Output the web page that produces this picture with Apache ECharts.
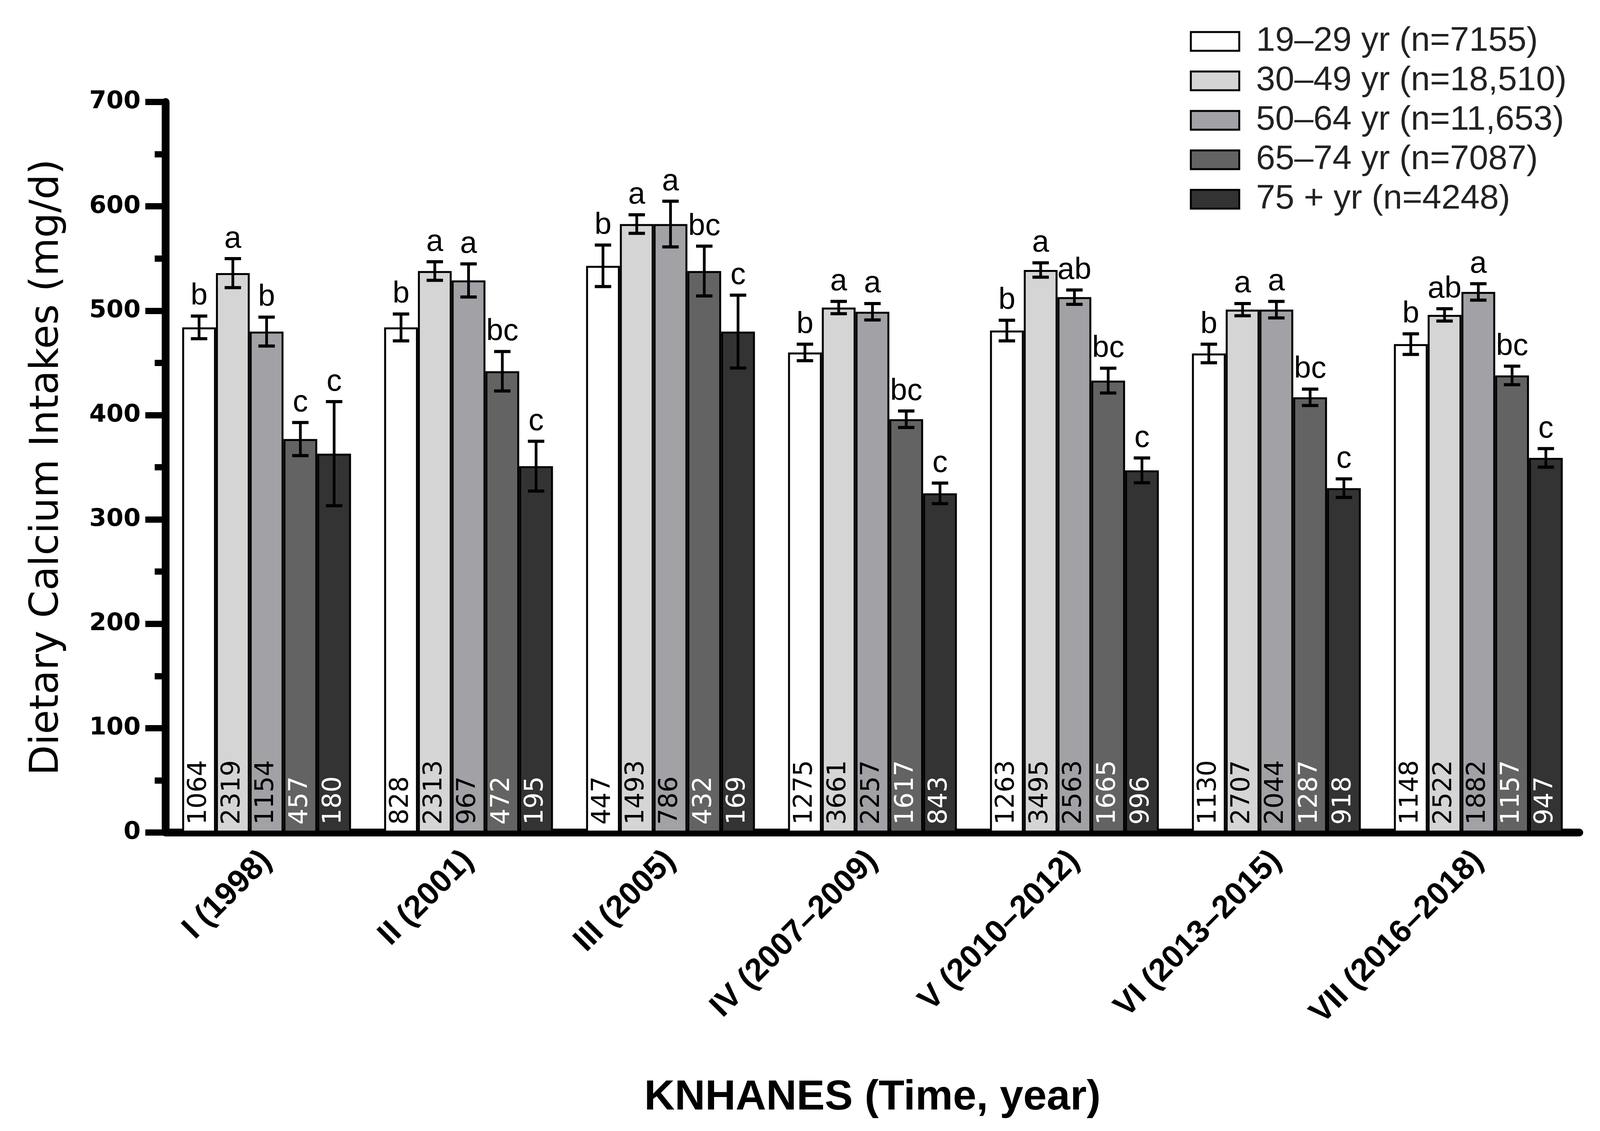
<!DOCTYPE html>
<html>
<head>
<meta charset="utf-8">
<script src="https://cdn.jsdelivr.net/npm/echarts@6/dist/echarts.min.js"></script>
<style>
html,body{margin:0;padding:0;background:#fff;}
#chart{width:4104px;height:2895px;}
</style>
</head>
<body>
<div id="chart"></div>
<script>
// ---------- data ----------
const categories = ['I (1998)', 'II (2001)', 'III (2005)', 'IV (2007–2009)', 'V (2010–2012)', 'VI (2013–2015)', 'VII (2016–2018)'];
const ageGroups = ['19–29 yr (n=7155)', '30–49 yr (n=18,510)', '50–64 yr (n=11,653)', '65–74 yr (n=7087)', '75 + yr (n=4248)'];
const yTicks = [0, 100, 200, 300, 400, 500, 600, 700];

const mean19_29  = [484, 484, 543, 460, 481, 459, 468];
const mean30_49  = [536, 538, 583, 503, 539, 501, 496];
const mean50_64  = [480, 529, 583, 499, 513, 501, 518];
const mean65_74  = [377, 442, 538, 396, 433, 417, 438];
const mean75plus = [363, 351, 480, 325, 347, 330, 359];

const se19_29  = [12, 14, 21, 9, 11, 10, 11];
const se30_49  = [15, 10, 10, 7, 8, 7, 7];
const se50_64  = [15, 17, 23, 9, 8, 9, 9];
const se65_74  = [17, 20, 25, 9, 13, 9, 10];
const se75plus = [51, 25, 36, 11, 13, 10, 10];

const sig19_29  = ['b', 'b', 'b', 'b', 'b', 'b', 'b'];
const sig30_49  = ['a', 'a', 'a', 'a', 'a', 'a', 'ab'];
const sig50_64  = ['b', 'a', 'a', 'a', 'ab', 'a', 'a'];
const sig65_74  = ['c', 'bc', 'bc', 'bc', 'bc', 'bc', 'bc'];
const sig75plus = ['c', 'c', 'c', 'c', 'c', 'c', 'c'];

const n19_29  = [1064, 828, 447, 1275, 1263, 1130, 1148];
const n30_49  = [2319, 2313, 1493, 3661, 3495, 2707, 2522];
const n50_64  = [1154, 967, 786, 2257, 2563, 2044, 1882];
const n65_74  = [457, 472, 432, 1617, 1665, 1287, 1157];
const n75plus = [180, 195, 169, 843, 996, 918, 947];

// ---------- styling ----------
const means = [mean19_29, mean30_49, mean50_64, mean65_74, mean75plus];
const ses = [se19_29, se30_49, se50_64, se65_74, se75plus];
const sigs = [sig19_29, sig30_49, sig50_64, sig65_74, sig75plus];
const ns = [n19_29, n30_49, n50_64, n65_74, n75plus];
const fills = ['#ffffff', '#d5d5d5', '#a2a1a6', '#636363', '#333333'];
const nLabelColors = ['#000', '#000', '#000', '#fff', '#fff'];
const CAT_GAP = 0.164;

const chart = echarts.init(document.getElementById('chart'), null, {width: 4104, height: 2895, devicePixelRatio: 1});

const barSeries = ageGroups.map((name, s) => ({
  name: name,
  type: 'bar',
  data: means[s],
  barGap: '0%',
  barCategoryGap: (CAT_GAP * 100) + '%',
  itemStyle: {color: fills[s], borderColor: '#000', borderWidth: 5},
  label: {
    show: true,
    position: 'insideBottom',
    rotate: 90,
    align: 'left',
    verticalAlign: 'middle',
    distance: 20,
    fontFamily: 'DejaVu Sans',
    fontSize: 65,
    color: nLabelColors[s],
    formatter: p => String(ns[s][p.dataIndex])
  },
  z: 2
}));

const errData = [];
const errLetters = [];
for (let s = 0; s < 5; s++) {
  for (let c = 0; c < categories.length; c++) {
    errData.push([c, s, means[s][c], ses[s][c]]);
    errLetters.push(sigs[s][c]);
  }
}

function renderErr(params, api) {
  const cat = api.value(0), s = api.value(1), m = api.value(2), e = api.value(3);
  const base = api.coord([cat, m]);
  const band = api.size([1, 0])[0];
  const bw = band * (1 - CAT_GAP) / 5;
  const x = base[0] + (s - 2) * bw;
  const yTop = api.coord([cat, m + e])[1];
  const yBot = api.coord([cat, m - e])[1];
  const cap = 21;
  return {
    type: 'group',
    children: [
      {type: 'line', shape: {x1: x, y1: yTop, x2: x, y2: yBot}, style: {stroke: '#000', lineWidth: 7}},
      {type: 'line', shape: {x1: x - cap, y1: yTop + 3, x2: x + cap, y2: yTop + 3}, style: {stroke: '#000', lineWidth: 8}},
      {type: 'line', shape: {x1: x - cap, y1: yBot - 3, x2: x + cap, y2: yBot - 3}, style: {stroke: '#000', lineWidth: 8}},
      {type: 'text', x: x, y: yTop - 8, style: {
        text: errLetters[params.dataIndex], fill: '#000',
        fontFamily: 'Liberation Sans', fontSize: 78,
        align: 'center', verticalAlign: 'bottom'
      }}
    ]
  };
}

const option = {
  backgroundColor: '#fff',
  animation: false,
  grid: {left: 424, right: 61, top: 261, bottom: 764, containLabel: false},
  legend: {
    data: ageGroups,
    orient: 'vertical',
    left: 3041,
    top: 57,
    itemWidth: 124,
    itemHeight: 48,
    itemGap: 13,
    icon: 'rect',
    itemStyle: {borderColor: '#000', borderWidth: 5},
    textStyle: {fontFamily: 'Liberation Sans', fontSize: 88, color: '#222', padding: [0, 0, 0, 38]}
  },
  xAxis: {
    type: 'category',
    data: categories,
    name: 'KNHANES (Time, year)',
    nameLocation: 'middle',
    nameGap: 625,
    nameTextStyle: {fontFamily: 'Liberation Sans', fontWeight: 'bold', fontSize: 108, color: '#000'},
    axisLine: {lineStyle: {color: '#000', width: 20}},
    axisTick: {alignWithLabel: true, length: 52, lineStyle: {color: '#000', width: 12}},
    axisLabel: {interval: 0, rotate: 45, margin: 60, fontFamily: 'Liberation Sans', fontWeight: 'bold', fontSize: 82, color: '#000'}
  },
  yAxis: {
    type: 'value',
    min: yTicks[0],
    max: yTicks[yTicks.length - 1],
    interval: 100,
    name: 'Dietary Calcium Intakes (mg/d)',
    nameLocation: 'middle',
    nameGap: 252,
    nameTextStyle: {fontFamily: 'DejaVu Sans', fontSize: 101, color: '#000'},
    axisLine: {show: true, lineStyle: {color: '#000', width: 20}},
    axisTick: {show: true, length: 52, lineStyle: {color: '#000', width: 16}},
    minorTick: {show: true, splitNumber: 2, length: 28, lineStyle: {color: '#000', width: 16}},
    splitLine: {show: false},
    axisLabel: {margin: 64, fontFamily: 'DejaVu Sans', fontWeight: 'bold', fontSize: 63, color: '#000'}
  },
  series: barSeries.concat([{
    type: 'custom',
    name: 'err',
    renderItem: renderErr,
    data: errData,
    encode: {x: 0, y: 2},
    z: 5,
    silent: true
  }])
};
chart.setOption(option);
</script>
</body>
</html>
